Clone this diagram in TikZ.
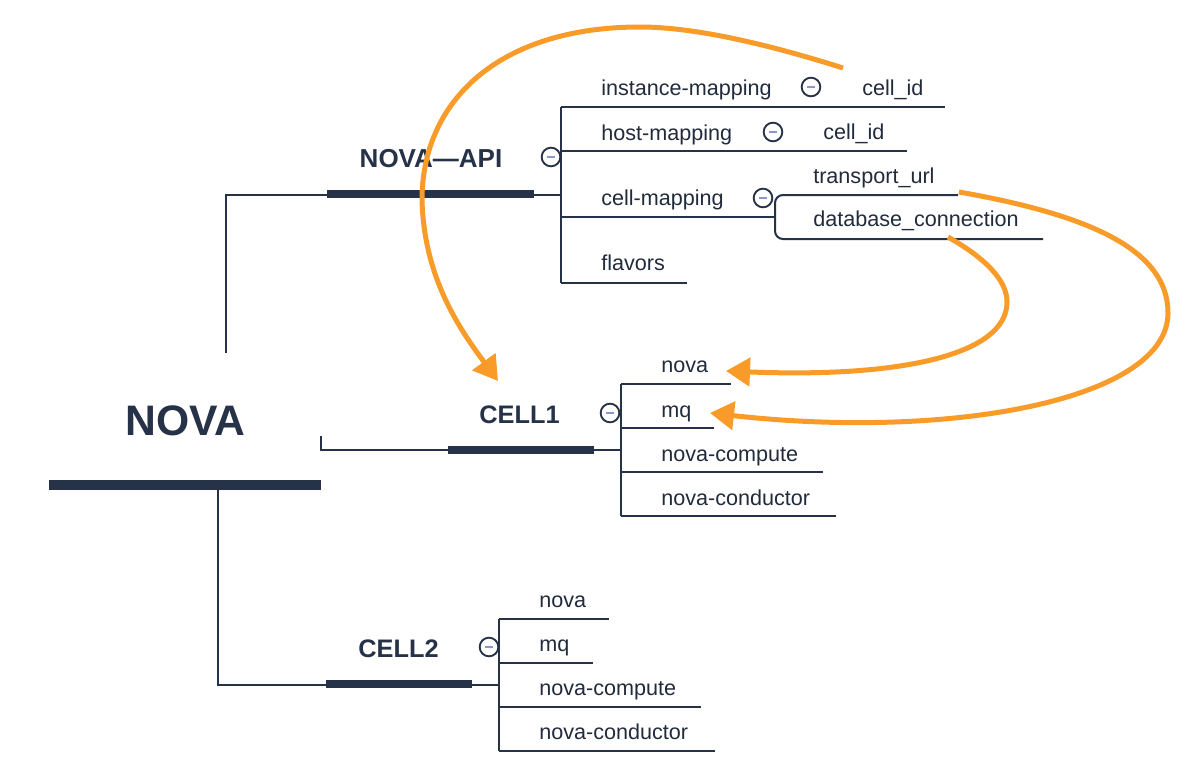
\documentclass[tikz,border=0pt]{standalone}
\usepackage{fontspec}
\setmainfont{Liberation Sans}
\usetikzlibrary{arrows.meta}
\definecolor{navy}{HTML}{263247}
\definecolor{txt}{HTML}{222B3B}
\definecolor{orng}{HTML}{F99B28}
\definecolor{dashc}{HTML}{8C96C8}
\begin{document}
\begin{tikzpicture}[x=0.75pt,y=-0.75pt,
  wire/.style={draw=navy,line width=1.5pt},
  barline/.style={draw=navy,line width=6pt},
  rootbar/.style={draw=navy,line width=7.5pt},
  lbl/.style={anchor=base west,inner sep=0pt,text=txt,font=\fontsize{16.2}{19}\selectfont},
  hdr/.style={anchor=base,inner sep=0pt,text=navy,font=\bfseries\fontsize{19}{22}\selectfont},
  icon/.style={circle,draw=navy,line width=1.4pt,fill=white,minimum size=14pt,inner sep=0pt,
    path picture={\draw[dashc,line width=1.5pt] ([xshift=-3.2pt]path picture bounding box.center) -- ([xshift=3.2pt]path picture bounding box.center);}},
  link/.style={draw=orng,line width=3.75pt,-{Triangle[length=18pt,width=21pt]}}
]
\useasboundingbox (0,0) rectangle (1194,778);

% ---------- root ----------
\node[hdr,font=\bfseries\fontsize{32}{36}\selectfont] (nova) at (185.5,435) {NOVA};
\coordinate (rbL) at (49,485);
\coordinate (rbR) at (321,485);
\draw[rootbar] (rbL) -- (rbR);

% ---------- NOVA-API ----------
\node[hdr,font=\bfseries\fontsize{19.5}{22}\selectfont] (api) at (431,167) {NOVA—API};
\coordinate (apiL) at (327,194);
\coordinate (apiR) at (534,194);
\draw[barline] (apiL) -- (apiR);
\coordinate (apiUp) at (226,353);
\coordinate (apiCorner) at (226,195);
\draw[wire] (apiUp) -- (apiCorner) -- (327,195);
\coordinate (apiB) at (561,195);
\draw[wire] (534,195) -- (apiB);
\coordinate (apiTop) at (561,107);
\coordinate (apiBot) at (561,283);
\draw[wire] (apiTop) -- (apiBot);

\node[lbl] (im) at (601,95) {instance-mapping};
\node[lbl] (cid1) at (862,95) {cell\_id};
\draw[wire] (apiTop) -- (945,107);
\node[lbl] (hm) at (601,140) {host-mapping};
\node[lbl] (cid2) at (823,139) {cell\_id};
\draw[wire] (561,151) -- (907,151);
\node[lbl] (cm) at (601,205) {cell-mapping};
\coordinate (cmE) at (775,217);
\draw[wire] (561,217) -- (cmE);
\node[lbl] (tu) at (813,183) {transport\_url};
\node[lbl] (dbc) at (813,226) {database\_connection};
\coordinate (tuE) at (958,195);
\coordinate (dbcE) at (1043,239);
\draw[wire,rounded corners=6pt] (tuE) -- (775,195) -- (775,239) -- (dbcE);
\node[lbl] (fl) at (601,270) {flavors};
\draw[wire] (apiBot) -- (687,283);

% ---------- CELL1 ----------
\node[hdr] (c1) at (519.5,423) {CELL1};
\coordinate (c1L) at (448,450);
\coordinate (c1R) at (594,450);
\draw[barline] (c1L) -- (c1R);
\draw[wire] (321,436) -- (321,450) -- (c1L);
\coordinate (c1B) at (621,450);
\draw[wire] (c1R) -- (c1B);
\draw[wire] (621,384) -- (621,516);
\node[lbl] (c1n) at (661,372) {nova};
\draw[wire] (621,384) -- (731,384);
\node[lbl] (c1m) at (661,417) {mq};
\draw[wire] (621,428) -- (714,428);
\node[lbl] (c1c) at (661,461) {nova-compute};
\draw[wire] (621,472) -- (823,472);
\node[lbl] (c1d) at (661,505) {nova-conductor};
\draw[wire] (621,516) -- (836,516);

% ---------- CELL2 ----------
\node[hdr] (c2) at (398.5,657) {CELL2};
\coordinate (c2L) at (326,684);
\coordinate (c2R) at (472,684);
\draw[barline] (c2L) -- (c2R);
\draw[wire] (218,489) -- (218,685) -- (326,685);
\draw[wire] (472,685) -- (499,685);
\draw[wire] (499,619) -- (499,751);
\node[lbl] (c2n) at (539,607) {nova};
\draw[wire] (499,619) -- (609,619);
\node[lbl] (c2m) at (539,651) {mq};
\draw[wire] (499,663) -- (593,663);
\node[lbl] (c2c) at (539,695) {nova-compute};
\draw[wire] (499,707) -- (701,707);
\node[lbl] (c2d) at (539,739) {nova-conductor};
\draw[wire] (499,751) -- (715,751);

% ---------- collapse icons ----------
\node[icon] (i1) at (551,157) {};
\node[icon] (i2) at (811,87) {};
\node[icon] (i3) at (773,132) {};
\node[icon] (i4) at (763,198) {};
\node[icon] (i5) at (610,413) {};
\node[icon] (i6) at (489,647) {};

% ---------- orange links ----------
\coordinate (a1s) at (843,68);
\coordinate (a1e) at (498,381);
\draw[link] (a1s) .. controls (780,48) and (700,27) .. (640,27)
  .. controls (500,27) and (422,100) .. (422,200)
  .. controls (424,280) and (462,332) .. (a1e);
\coordinate (a2s) at (948,237);
\coordinate (a2e) at (726,371);
\draw[link] (a2s) .. controls (985,258) and (1007,280) .. (1007,302)
  .. controls (1007,355) and (900,378) .. (a2e);
\coordinate (a3s) at (959,192);
\coordinate (a3e) at (710,413);
\draw[link] (a3s) .. controls (1090,215) and (1168,250) .. (1168,313)
  .. controls (1168,400) and (950,440) .. (a3e);
\end{tikzpicture}
\end{document}
